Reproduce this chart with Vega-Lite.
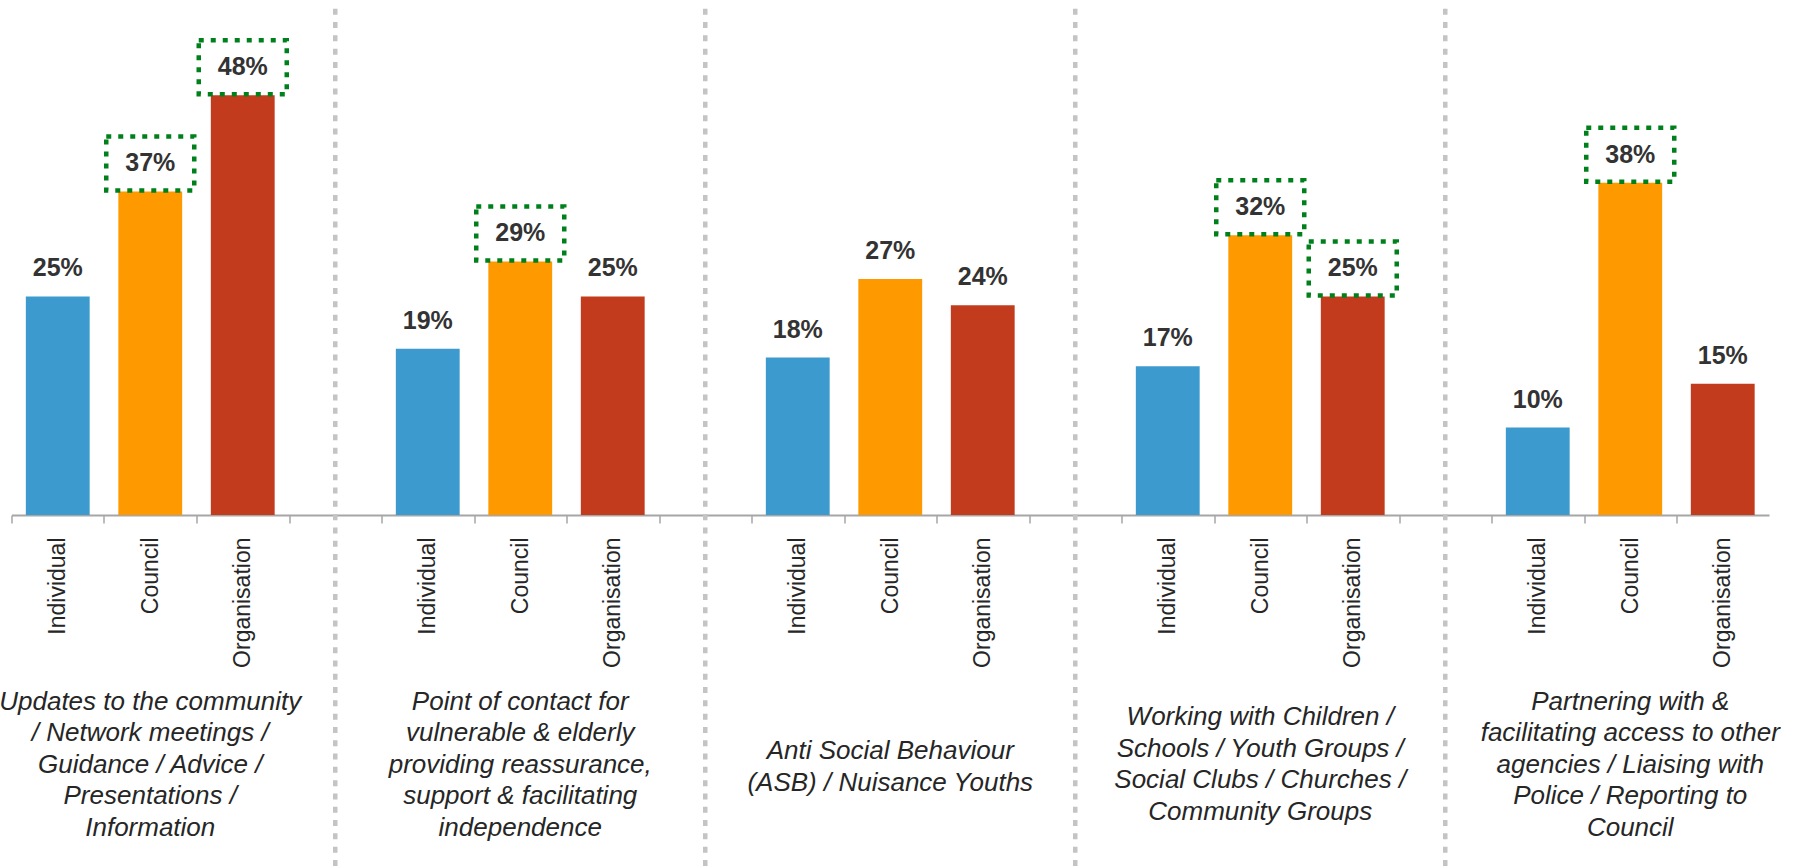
{
  "$schema": "https://vega.github.io/schema/vega-lite/v6.json",
  "autosize": {"type": "none"},
  "width": 1757.5,
  "height": 515,
  "padding": {"left": 11.5, "top": 0, "right": 43, "bottom": 352},
  "background": "white",
  "config": {"view": {"stroke": null}},
  "datasets": {
    "bars": [
      {"slot": "G1 Individual", "who": "Individual", "value": 0.25, "hl": false},
      {"slot": "G1 Council", "who": "Council", "value": 0.37, "hl": true},
      {"slot": "G1 Organisation", "who": "Organisation", "value": 0.48, "hl": true},
      {"slot": "G2 Individual", "who": "Individual", "value": 0.19, "hl": false},
      {"slot": "G2 Council", "who": "Council", "value": 0.29, "hl": true},
      {"slot": "G2 Organisation", "who": "Organisation", "value": 0.25, "hl": false},
      {"slot": "G3 Individual", "who": "Individual", "value": 0.18, "hl": false},
      {"slot": "G3 Council", "who": "Council", "value": 0.27, "hl": false},
      {"slot": "G3 Organisation", "who": "Organisation", "value": 0.24, "hl": false},
      {"slot": "G4 Individual", "who": "Individual", "value": 0.17, "hl": false},
      {"slot": "G4 Council", "who": "Council", "value": 0.32, "hl": true},
      {"slot": "G4 Organisation", "who": "Organisation", "value": 0.25, "hl": true},
      {"slot": "G5 Individual", "who": "Individual", "value": 0.10, "hl": false},
      {"slot": "G5 Council", "who": "Council", "value": 0.38, "hl": true},
      {"slot": "G5 Organisation", "who": "Organisation", "value": 0.15, "hl": false}
    ],
    "seps": [
      {"slot": "gap1"}, {"slot": "gap2"}, {"slot": "gap3"}, {"slot": "gap4"}
    ],
    "titles": [
      {"slot": "G1 Council", "lines": 5, "title": "Updates to the community\n/ Network meetings /\nGuidance / Advice /\nPresentations /\nInformation"},
      {"slot": "G2 Council", "lines": 5, "title": "Point of contact for\nvulnerable & elderly\nproviding reassurance,\nsupport & facilitating\nindependence"},
      {"slot": "G3 Council", "lines": 2, "title": "Anti Social Behaviour\n(ASB) / Nuisance Youths"},
      {"slot": "G4 Council", "lines": 4, "title": "Working with Children /\nSchools / Youth Groups /\nSocial Clubs / Churches /\nCommunity Groups"},
      {"slot": "G5 Council", "lines": 5, "title": "Partnering with &\nfacilitating access to other\nagencies / Liaising with\nPolice / Reporting to\nCouncil"}
    ]
  },
  "encoding": {
    "x": {
      "field": "slot",
      "type": "nominal",
      "sort": null,
      "title": null,
      "scale": {
        "domain": ["G1 Individual", "G1 Council", "G1 Organisation", "gap1",
                   "G2 Individual", "G2 Council", "G2 Organisation", "gap2",
                   "G3 Individual", "G3 Council", "G3 Organisation", "gap3",
                   "G4 Individual", "G4 Council", "G4 Organisation", "gap4",
                   "G5 Individual", "G5 Council", "G5 Organisation"],
        "paddingInner": 0.31,
        "paddingOuter": 0.155
      },
      "axis": {
        "labelExpr": "indexof(datum.value, 'gap') == 0 ? '' : substring(datum.value, 3)",
        "labelAngle": -90,
        "labelFont": "Liberation Sans",
        "labelFontSize": 23,
        "labelColor": "#262626",
        "labelPadding": 14,
        "tickOffset": -46.25,
        "labelOffset": 46.25,
        "tickSize": 8,
        "tickColor": "#a6a6a6",
        "tickWidth": 1.5,
        "domainColor": "#a6a6a6",
        "domainWidth": 2,
        "grid": false
      }
    }
  },
  "layer": [
    {
      "data": {"name": "seps"},
      "mark": {"type": "rule", "color": "#c4c4c4", "strokeWidth": 4.5, "strokeDash": [6, 7.3]},
      "encoding": {
        "y": {"datum": 0.579, "type": "quantitative", "scale": {"domain": [0, 0.589]}, "axis": null},
        "y2": {"datum": -0.41}
      }
    },
    {
      "data": {"name": "bars"},
      "mark": {"type": "bar"},
      "encoding": {
        "y": {"field": "value", "type": "quantitative", "scale": {"domain": [0, 0.589]}, "axis": null},
        "color": {
          "field": "who",
          "type": "nominal",
          "scale": {"domain": ["Individual", "Council", "Organisation"], "range": ["#3c9ace", "#fe9a00", "#c23b1c"]},
          "legend": null
        }
      }
    },
    {
      "data": {"name": "bars"},
      "transform": [{"filter": "datum.hl"}],
      "mark": {
        "type": "point",
        "shape": "M-1,-0.614H1V0.614H-1Z",
        "size": 7744,
        "filled": false,
        "opacity": 1,
        "stroke": "#00801a",
        "strokeWidth": 4.5,
        "strokeDash": [5, 7],
        "yOffset": -28
      },
      "encoding": {
        "y": {"field": "value", "type": "quantitative", "scale": {"domain": [0, 0.589]}, "axis": null}
      }
    },
    {
      "data": {"name": "bars"},
      "mark": {
        "type": "text",
        "font": "Liberation Sans Narrow, Liberation Sans",
        "fontWeight": "bold",
        "fontSize": 25,
        "color": "#333333",
        "baseline": "middle",
        "align": "center",
        "dy": -28
      },
      "encoding": {
        "y": {"field": "value", "type": "quantitative", "scale": {"domain": [0, 0.589]}, "axis": null},
        "text": {"field": "value", "type": "quantitative", "format": ".0%"}
      }
    },
    {
      "data": {"name": "titles"},
      "transform": [{"filter": "datum.lines == 5"}],
      "mark": {
        "type": "text",
        "font": "Liberation Sans",
        "fontStyle": "italic",
        "fontSize": 26,
        "color": "#262626",
        "baseline": "middle",
        "align": "center",
        "lineBreak": "\n",
        "lineHeight": 31.5
      },
      "encoding": {
        "y": {"datum": -0.2133, "type": "quantitative", "scale": {"domain": [0, 0.589]}, "axis": null},
        "text": {"field": "title", "type": "nominal"}
      }
    },
    {
      "data": {"name": "titles"},
      "transform": [{"filter": "datum.lines == 4"}],
      "mark": {
        "type": "text",
        "font": "Liberation Sans",
        "fontStyle": "italic",
        "fontSize": 26,
        "color": "#262626",
        "baseline": "middle",
        "align": "center",
        "lineBreak": "\n",
        "lineHeight": 31.5
      },
      "encoding": {
        "y": {"datum": -0.2314, "type": "quantitative", "scale": {"domain": [0, 0.589]}, "axis": null},
        "text": {"field": "title", "type": "nominal"}
      }
    },
    {
      "data": {"name": "titles"},
      "transform": [{"filter": "datum.lines == 2"}],
      "mark": {
        "type": "text",
        "font": "Liberation Sans",
        "fontStyle": "italic",
        "fontSize": 26,
        "color": "#262626",
        "baseline": "middle",
        "align": "center",
        "lineBreak": "\n",
        "lineHeight": 31.5
      },
      "encoding": {
        "y": {"datum": -0.27, "type": "quantitative", "scale": {"domain": [0, 0.589]}, "axis": null},
        "text": {"field": "title", "type": "nominal"}
      }
    }
  ]
}
